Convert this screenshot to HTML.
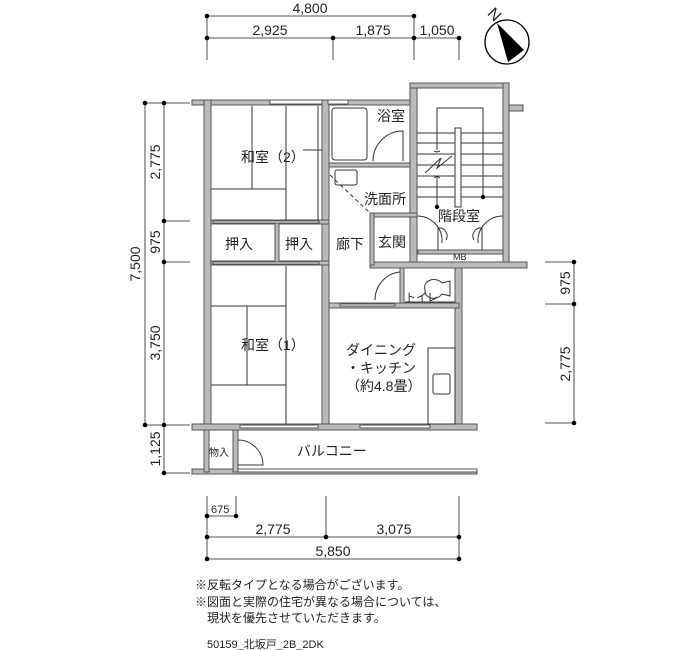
<!DOCTYPE html>
<html><head><meta charset="utf-8"><style>
body{margin:0;background:#fff;}
svg{display:block}
text{font-family:"Liberation Sans","Noto Sans CJK JP",sans-serif;fill:#222}
</style></head><body>
<svg width="700" height="650" viewBox="0 0 700 650" xmlns="http://www.w3.org/2000/svg">
<g stroke="#777" stroke-width="1.3" fill="none">
<line x1="207" y1="16" x2="414" y2="16"/>
<line x1="207" y1="38" x2="459" y2="38"/>
<line x1="207" y1="16" x2="207" y2="60"/>
<line x1="333" y1="38" x2="333" y2="60"/>
<line x1="414" y1="16" x2="414" y2="60"/>
<line x1="459" y1="38" x2="459" y2="60"/>
<line x1="145" y1="103" x2="145" y2="425"/>
<line x1="164" y1="103" x2="164" y2="473"/>
<line x1="145" y1="103" x2="190" y2="103"/>
<line x1="164" y1="221" x2="190" y2="221"/>
<line x1="164" y1="262" x2="190" y2="262"/>
<line x1="145" y1="425" x2="190" y2="425"/>
<line x1="164" y1="473" x2="190" y2="473"/>
<line x1="574" y1="262" x2="574" y2="423"/>
<line x1="545" y1="262" x2="574" y2="262"/>
<line x1="545" y1="304" x2="574" y2="304"/>
<line x1="545" y1="423" x2="574" y2="423"/>
<line x1="207" y1="496" x2="207" y2="559"/>
<line x1="236" y1="496" x2="236" y2="516"/>
<line x1="326" y1="496" x2="326" y2="537"/>
<line x1="459" y1="496" x2="459" y2="559"/>
<line x1="207" y1="516" x2="236" y2="516"/>
<line x1="207" y1="537" x2="459" y2="537"/>
<line x1="207" y1="559" x2="459" y2="559"/>
</g>
<g fill="#000">
<circle cx="207" cy="16" r="2.3"/><circle cx="414" cy="16" r="2.3"/>
<circle cx="207" cy="38" r="2.3"/><circle cx="333" cy="38" r="2.3"/><circle cx="414" cy="38" r="2.3"/><circle cx="459" cy="38" r="2.3"/>
<circle cx="145" cy="103" r="2.3"/><circle cx="164" cy="103" r="2.3"/><circle cx="164" cy="221" r="2.3"/><circle cx="164" cy="262" r="2.3"/><circle cx="145" cy="425" r="2.3"/><circle cx="164" cy="425" r="2.3"/><circle cx="164" cy="473" r="2.3"/>
<circle cx="574" cy="262" r="2.3"/><circle cx="574" cy="304" r="2.3"/><circle cx="574" cy="423" r="2.3"/>
<circle cx="207" cy="516" r="2.3"/><circle cx="236" cy="516" r="2.3"/>
<circle cx="207" cy="537" r="2.3"/><circle cx="326" cy="537" r="2.3"/><circle cx="459" cy="537" r="2.3"/>
<circle cx="207" cy="559" r="2.3"/><circle cx="459" cy="559" r="2.3"/>
</g>
<g font-size="14">
<text x="310" y="13" text-anchor="middle">4,800</text>
<text x="270" y="35" text-anchor="middle">2,925</text>
<text x="373" y="35" text-anchor="middle">1,875</text>
<text x="437" y="35" text-anchor="middle">1,050</text>
<text transform="translate(140,264) rotate(-90)" text-anchor="middle">7,500</text>
<text transform="translate(160,162) rotate(-90)" text-anchor="middle">2,775</text>
<text transform="translate(160,242) rotate(-90)" text-anchor="middle">975</text>
<text transform="translate(160,343) rotate(-90)" text-anchor="middle">3,750</text>
<text transform="translate(160,449) rotate(-90)" text-anchor="middle">1,125</text>
<text transform="translate(570,283) rotate(-90)" text-anchor="middle">975</text>
<text transform="translate(570,364) rotate(-90)" text-anchor="middle">2,775</text>
<text x="273" y="534" text-anchor="middle">2,775</text>
<text x="394" y="534" text-anchor="middle">3,075</text>
<text x="333" y="556" text-anchor="middle">5,850</text>
</g>
<text x="211" y="513" font-size="11">675</text>
<circle cx="507" cy="42" r="22" fill="#fff" stroke="#000" stroke-width="1.3"/>
<polygon points="497,23 524,50 508,62" fill="#000"/>
<text x="495" y="20" font-size="16" transform="rotate(45 495 14)" text-anchor="middle">N</text>
<g fill="#bbb" stroke="#555" stroke-width="1">
<rect x="192" y="100" width="223" height="5"/>
<rect x="204" y="100" width="7" height="330"/>
<rect x="322" y="100" width="7" height="330"/>
<rect x="211" y="220" width="118" height="4"/>
<rect x="211" y="261" width="118" height="4"/>
<rect x="275" y="222" width="4" height="40"/>
<rect x="410" y="83" width="7" height="185"/>
<rect x="410" y="83" width="98" height="5"/>
<rect x="503" y="83" width="6" height="184"/>
<rect x="509" y="105" width="14" height="6"/>
<rect x="370" y="262" width="157" height="6"/>
<rect x="370" y="213" width="47" height="4"/>
<rect x="370" y="213" width="4" height="52"/>
<rect x="329" y="163" width="81" height="4"/>
<rect x="455" y="268" width="7" height="162"/>
<rect x="400" y="268" width="4" height="40"/>
<rect x="329" y="303" width="130" height="5"/>
<rect x="192" y="424" width="285" height="6"/>
<rect x="192" y="469" width="285" height="5"/>
<rect x="204" y="430" width="5" height="42"/>
<rect x="233" y="430" width="5" height="42"/>
<rect x="418" y="250" width="85" height="4"/>
</g>
<g fill="#fff" stroke="#555" stroke-width="1">
<rect x="270" y="100" width="52" height="4"/>
<rect x="328" y="100" width="20" height="4"/>
<rect x="240" y="425" width="78" height="3"/>
<rect x="360" y="425" width="70" height="3"/>
<rect x="238" y="469" width="239" height="3"/>
<rect x="213" y="221" width="106" height="2"/>
<rect x="213" y="262" width="106" height="2"/>
<rect x="340" y="304" width="55" height="2"/>
</g>
<g stroke="#333" stroke-width="1" fill="none">
<line x1="252" y1="106" x2="252" y2="189"/><line x1="286" y1="106" x2="286" y2="220"/>
<line x1="211" y1="189" x2="286" y2="189"/><line x1="303" y1="150" x2="322" y2="150"/>
<line x1="318" y1="106" x2="318" y2="220"/>
<line x1="286" y1="266" x2="286" y2="424"/><line x1="211" y1="306" x2="286" y2="306"/>
<line x1="247" y1="306" x2="247" y2="385"/><line x1="211" y1="385" x2="286" y2="385"/>
<rect x="332" y="108" width="35" height="52" rx="3"/>
<path d="M373 161 A30 30 0 0 1 403 131 L403 161"/>
<rect x="335" y="170" width="22" height="15" rx="2"/>
<line x1="330" y1="175" x2="370" y2="213" stroke-dasharray="4,3"/>
<!-- stairs -->
<line x1="417" y1="133" x2="503" y2="133"/><line x1="417" y1="143" x2="503" y2="143"/>
<line x1="417" y1="154" x2="503" y2="154"/><line x1="417" y1="165" x2="503" y2="165"/>
<line x1="417" y1="176" x2="503" y2="176"/><line x1="417" y1="187" x2="503" y2="187"/>
<line x1="417" y1="197" x2="503" y2="197"/>
<rect x="455" y="128" width="6" height="79" fill="#fff"/>
<path d="M437 150 L437 108 L483 108 L483 197"/>
<path d="M437 176 L437 207"/>
<path d="M434 151 L437 152 L440 151 M434 178 L437 176 L440 178"/>
<path d="M425 173 L441 158 L437 168 L452 156"/>
<path d="M417 216 A25 25 0 0 1 442 243 M503 216 A25 25 0 0 0 478 243"/>
<path d="M438 228 A8 8 0 0 1 446 240 M482 228 A8 8 0 0 0 474 240"/>
<line x1="438" y1="228" x2="438" y2="250"/><line x1="482" y1="228" x2="482" y2="250"/>
<path d="M375 300 A28 28 0 0 1 400 272"/>
<path d="M425 290 C422 280 436 276 442 283 L450 281 L450 296 L442 294 C436 302 424 298 425 290"/>
<line x1="405" y1="302" x2="455" y2="302"/>
<rect x="428" y="348" width="27" height="76"/>
<rect x="433" y="374" width="17" height="20" rx="2"/>
<path d="M238 440 A25 25 0 0 1 263 465 L238 465"/>
</g>
<g fill="#000"><circle cx="437" cy="207" r="2.2"/><circle cx="483" cy="197" r="2.2"/></g>
<g font-size="14">
<text x="241" y="162">和室（2）</text>
<text x="377" y="121">浴室</text>
<text x="364" y="204">洗面所</text>
<text x="438" y="221">階段室</text>
<text x="225" y="249">押入</text>
<text x="285" y="249">押入</text>
<text x="336" y="249">廊下</text>
<text x="378" y="247">玄関</text>
<text x="241" y="350">和室（1）</text>
<text x="346" y="355">ダイニング</text>
<text x="346" y="373">・キッチン</text>
<text x="346" y="391">（約4.8畳）</text>
<text x="297" y="456">バルコニー</text>
</g>
<text x="453" y="260" font-size="9">MB</text>
<text x="405" y="301" font-size="11">トイレ</text>
<text x="209" y="456" font-size="10">物入</text>
<g font-size="12">
<text x="195" y="589">※反転タイプとなる場合がございます。</text>
<text x="195" y="606">※図面と実際の住宅が異なる場合については、</text>
<text x="207" y="622">現状を優先させていただきます。</text>
</g>
<text x="207" y="648" font-size="11">50159_北坂戸_2B_2DK</text>
</svg>
</body></html>
